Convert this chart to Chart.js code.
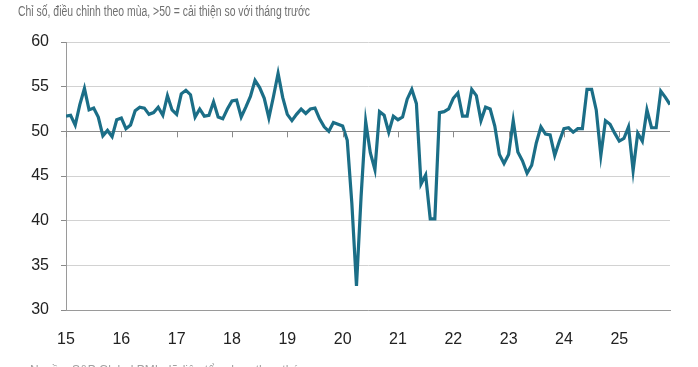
<!DOCTYPE html>
<html lang="vi">
<head>
    <meta charset="UTF-8">
    <title>PMI Việt Nam</title>
    <script src="https://cdn.jsdelivr.net/npm/chart.js"></script>
    <style>
        html, body { margin: 0; padding: 0; background: #fff; overflow: hidden; }
        #wrap { position: relative; width: 698px; height: 367px; overflow: hidden; }
        .note {
            position: absolute;
            font-family: "Liberation Sans", Arial, sans-serif;
            white-space: nowrap;
            transform-origin: left top;
        }
        #subtitle { top: 3px; left: 18px; font-size: 14px; color: #707070; transform: scaleX(0.745); }
        #source { top: 362px; left: 30px; font-size: 13px; color: #a0a0a0; transform: scaleX(0.92); }
    </style>
</head>
<body>
<div id="wrap">
    <div class="note" id="subtitle">Chỉ số, điều chỉnh theo mùa, &gt;50 = cải thiện so với tháng trước</div>
    <canvas id="pmiChart"></canvas>
    <div class="note" id="source">Nguồn: S&amp;P Global PMI, dữ liệu tổng hợp theo tháng.</div>
</div>
<script>
    // chỉ số theo tháng, 01/2015 - 12/2025
    const yearLabels = ["15", "16", "17", "18", "19", "20", "21", "22", "23", "24", "25"];
    const pmi2015 = [51.7, 51.8, 50.7, 53.0, 54.8, 52.4, 52.6, 51.6, 49.5, 50.1, 49.4, 51.3];
    const pmi2016 = [51.5, 50.3, 50.7, 52.3, 52.7, 52.6, 51.9, 52.1, 52.7, 51.8, 54.0, 52.4];
    const pmi2017 = [51.9, 54.2, 54.6, 54.1, 51.6, 52.5, 51.7, 51.8, 53.3, 51.6, 51.4, 52.5];
    const pmi2018 = [53.4, 53.5, 51.6, 52.7, 53.9, 55.7, 54.9, 53.7, 51.5, 53.9, 56.5, 53.8];
    const pmi2019 = [51.9, 51.2, 51.9, 52.5, 52.0, 52.5, 52.6, 51.4, 50.5, 50.0, 51.0, 50.8];
    const pmi2020 = [50.6, 49.0, 41.9, 32.7, 42.7, 51.1, 47.6, 45.7, 52.2, 51.8, 49.9, 51.7];
    const pmi2021 = [51.3, 51.6, 53.6, 54.7, 53.1, 44.1, 45.1, 40.2, 40.2, 52.1, 52.2, 52.5];
    const pmi2022 = [53.7, 54.3, 51.7, 51.7, 54.7, 54.0, 51.2, 52.7, 52.5, 50.6, 47.4, 46.4];
    const pmi2023 = [47.4, 51.2, 47.7, 46.7, 45.3, 46.2, 48.7, 50.5, 49.7, 49.6, 47.3, 48.9];
    const pmi2024 = [50.3, 50.4, 49.9, 50.3, 50.3, 54.7, 54.7, 52.4, 47.3, 51.2, 50.8, 49.8];
    const pmi2025 = [48.9, 49.2, 50.5, 45.6, 49.8, 48.9, 52.4, 50.4, 50.4, 54.5, 53.8, 53.0];

    const pmi = [].concat(pmi2015, pmi2016, pmi2017, pmi2018, pmi2019, pmi2020,
                          pmi2021, pmi2022, pmi2023, pmi2024, pmi2025);
    const points = pmi.map((v, i) => ({ x: i, y: v }));
    const yearTicks = yearLabels.map((l, i) => i * 12);

    // vạch chia năm nằm trên đường 50
    const yearMarks = {
        id: 'yearMarks',
        afterDatasetsDraw(chart) {
            const { ctx, scales } = chart;
            const y = scales.y.getPixelForValue(50);
            ctx.save();
            ctx.strokeStyle = '#8a8a8a';
            ctx.lineWidth = 1;
            yearTicks.forEach(t => {
                const x = Math.round(scales.x.getPixelForValue(t)) + 0.5;
                ctx.beginPath();
                ctx.moveTo(x, y);
                ctx.lineTo(x, y + 6);
                ctx.stroke();
            });
            ctx.restore();
        }
    };

    new Chart(document.getElementById('pmiChart'), {
        type: 'line',
        data: {
            datasets: [{
                data: points,
                borderColor: '#1b6e87',
                borderWidth: 3.2,
                pointRadius: 0,
                tension: 0,
                fill: false
            }]
        },
        options: {
            responsive: true,
            maintainAspectRatio: false,
            animation: false,
            layout: { padding: { left: 18, right: 28, top: 42, bottom: 0 } },
            plugins: {
                legend: { display: false },
                tooltip: { enabled: false }
            },
            scales: {
                x: {
                    type: 'linear',
                    min: 0,
                    max: pmi.length - 1,
                    afterBuildTicks: scale => { scale.ticks = yearTicks.map(v => ({ value: v })); },
                    afterFit: scale => { scale.height = 57; },
                    grid: { display: false },
                    border: { display: true, color: '#9a9a9a', width: 1 },
                    ticks: {
                        padding: 12,
                        color: '#222',
                        maxRotation: 0,
                        font: { family: '"Liberation Sans", Arial, sans-serif', size: 16 },
                        callback: v => yearLabels[v / 12]
                    }
                },
                y: {
                    min: 30,
                    max: 60,
                    afterFit: scale => { scale.width = 48; },
                    grid: {
                        color: ctx => ctx.tick && ctx.tick.value === 50 ? '#8a8a8a' : '#d2d2d2',
                        tickColor: '#8a8a8a',
                        tickLength: 5,
                        lineWidth: 1
                    },
                    border: { display: true, color: '#9a9a9a', width: 1 },
                    ticks: {
                        stepSize: 5,
                        padding: 12,
                        color: '#222',
                        font: { family: '"Liberation Sans", Arial, sans-serif', size: 16 }
                    }
                }
            }
        },
        plugins: [yearMarks]
    });
</script>
</body>
</html>
